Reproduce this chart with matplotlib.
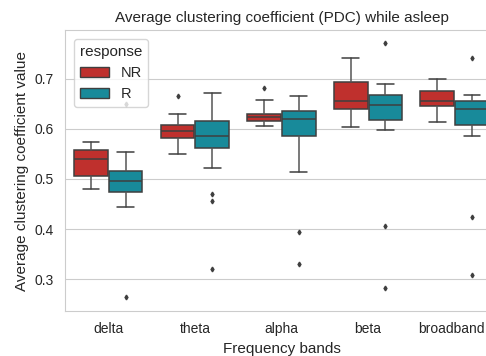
import matplotlib.pyplot as plt
import matplotlib.patches as mpatches
import matplotlib.transforms as mtransforms
import seaborn as sns

sns.set_style("whitegrid")
plt.rcParams['font.family'] = ['Liberation Sans', 'DejaVu Sans']

bands = ["delta", "theta", "alpha", "beta", "broadband"]
groups = ["NR", "R"]
colors = ["#bf302d", "#188a9a"]

# box statistics, per band
nr_whislo = [0.480, 0.550, 0.605, 0.603, 0.613]
nr_q1 = [0.505, 0.581, 0.615, 0.640, 0.645]
nr_med = [0.540, 0.595, 0.623, 0.655, 0.655]
nr_q3 = [0.557, 0.607, 0.630, 0.693, 0.675]
nr_whishi = [0.573, 0.629, 0.657, 0.742, 0.699]
nr_fliers = [[], [0.665], [0.682], [], []]

r_whislo = [0.445, 0.521, 0.513, 0.598, 0.585]
r_q1 = [0.473, 0.561, 0.585, 0.617, 0.607]
r_med = [0.495, 0.585, 0.620, 0.647, 0.639]
r_q3 = [0.515, 0.615, 0.635, 0.667, 0.655]
r_whishi = [0.553, 0.672, 0.665, 0.690, 0.668]
r_fliers = [[0.650, 0.265], [0.470, 0.456, 0.320], [0.395, 0.331],
            [0.772, 0.407, 0.282], [0.741, 0.425, 0.309]]


def make_stats(lo, q1, med, q3, hi, fl):
    return [dict(whislo=lo[i], q1=q1[i], med=med[i], q3=q3[i], whishi=hi[i], fliers=fl[i])
            for i in range(len(bands))]


fig = plt.figure(figsize=(4.86, 3.56), dpi=100)
ax = fig.add_axes([0.1337, 0.1264, 0.891, 0.789])

line_col = "#3f3f3f"
all_stats = [make_stats(nr_whislo, nr_q1, nr_med, nr_q3, nr_whishi, nr_fliers),
             make_stats(r_whislo, r_q1, r_med, r_q3, r_whishi, r_fliers)]
for j, stats in enumerate(all_stats):
    pos = [i - 0.2 + 0.4 * j for i in range(len(bands))]
    ax.bxp(stats, positions=pos, widths=0.39, patch_artist=True,
           boxprops=dict(facecolor=colors[j], edgecolor=line_col, linewidth=1.1),
           medianprops=dict(color=line_col, linewidth=1.1),
           whiskerprops=dict(color="#555555", linewidth=1.1),
           capprops=dict(color=line_col, linewidth=1.1),
           flierprops=dict(marker="d", markersize=2.4, markerfacecolor=line_col,
                           markeredgecolor=line_col))

ax.set_xlim(-0.5, len(bands) - 0.5)
ax.set_ylim(0.2367, 0.7967)
ax.set_xticks(range(len(bands)))
ax.set_xticklabels(bands)
ax.set_yticks([0.3, 0.4, 0.5, 0.6, 0.7])
ax.xaxis.grid(False)
ax.tick_params(axis="both", labelsize=10, pad=8, length=0, colors="#262626")

# last label sits right at the figure edge, nudge it in a little
last = ax.get_xticklabels()[-1]
last.set_transform(last.get_transform() + mtransforms.ScaledTranslation(-3 / 100, 0, fig.dpi_scale_trans))

ax.set_title("Average clustering coefficient (PDC) while asleep", fontsize=11, color="#262626")
ax.set_xlabel("Frequency bands", fontsize=11, color="#262626")
ax.set_ylabel("Average clustering coefficient value", fontsize=11, color="#262626")

handles = [mpatches.Patch(facecolor=colors[j], edgecolor=line_col, label=groups[j])
           for j in range(2)]
ax.legend(handles=handles, title="response", loc="upper left", fontsize=10.5,
          title_fontsize=11, borderaxespad=0.6)

fig.savefig("out.png", dpi=100)
